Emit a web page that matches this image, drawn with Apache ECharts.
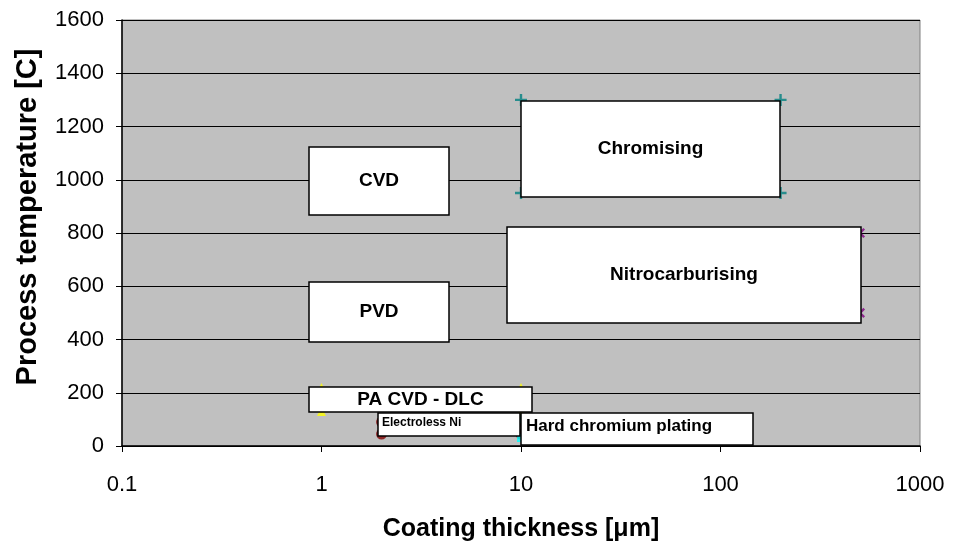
<!DOCTYPE html>
<html><head><meta charset="utf-8">
<script src="https://cdn.jsdelivr.net/npm/echarts@6/dist/echarts.min.js"></script>
<style>html,body{margin:0;padding:0;background:#fff}#c{width:954px;height:548px}</style>
</head><body><div id="c"></div>
<script>
// ---- data ----
const xTickLabels = ['0.1', '1', '10', '100', '1000'];
const yTickMin = 0, yTickMax = 1600, yTickStep = 200;

const boxNames = ['Chromising', 'Nitrocarburising', 'CVD', 'PVD', 'PA CVD - DLC', 'Electroless Ni', 'Hard chromium plating'];
const boxXMin = [10, 8.5, 0.87, 0.87, 0.87, 1.93, 10];
const boxXMax = [198, 505, 4.37, 4.37, 11.4, 9.9, 146];
const boxYMin = [935, 461, 868, 391, 129, 39, 4];
const boxYMax = [1297, 821, 1122, 615, 223, 125, 125];

const chromX = [10, 200, 10, 200];
const chromY = [1300, 1300, 950, 950];
const nitroX = [10, 500, 10, 500];
const nitroY = [800, 800, 500, 500];
const dlcX = [1, 10, 1, 10];
const dlcY = [220, 220, 130, 130];
const niX = [2, 10, 2, 10];
const niY = [90, 90, 45, 45];
const hardX = [10, 100, 10, 100];
const hardY = [100, 100, 30, 30];

// ---- styles ----
const FONT = '"Liberation Sans", Arial, sans-serif';
const labelStyle = [
  {size: 19, align: 'center', dx: 0, dy: 0},
  {size: 19, align: 'center', dx: 0, dy: 0},
  {size: 19, align: 'center', dx: 0, dy: 0},
  {size: 19, align: 'center', dx: 0, dy: 0},
  {size: 19, align: 'center', dx: 0, dy: 0},
  {size: 12, align: 'left', dx: 4, dy: 10, top: true},
  {size: 17, align: 'left', dx: 5, dy: 13, top: true}
];
const plusPath = 'path://M4,0H6V4H10V6H6V10H4V6H0V4H4Z';

function pts(xs, ys) { return xs.map((x, i) => [x, ys[i]]); }

const chart = echarts.init(document.getElementById('c'), null, {renderer: 'canvas'});
chart.setOption({
  animation: false,
  backgroundColor: '#ffffff',
  grid: {left: 122, right: 34, top: 20, bottom: 102, show: true, backgroundColor: '#C0C0C0', borderColor: '#808080', borderWidth: 1},
  xAxis: {
    type: 'log', logBase: 10, min: 0.1, max: 1000,
    name: 'Coating thickness [μm]', nameLocation: 'middle', nameGap: 71,
    nameTextStyle: {fontFamily: FONT, fontWeight: 'bold', fontSize: 25, color: '#000'},
    axisLine: {show: true, lineStyle: {color: '#000', width: 1.5}},
    axisTick: {show: true, inside: false, length: 6, lineStyle: {color: '#000', width: 1}},
    minorTick: {show: false},
    splitLine: {show: false},
    axisLabel: {
      fontFamily: FONT, fontSize: 22, color: '#000', margin: 28,
      formatter: v => xTickLabels[Math.round(Math.log10(v)) + 1]
    }
  },
  yAxis: {
    type: 'value', min: yTickMin, max: yTickMax, interval: yTickStep,
    name: 'Process temperature [C]', nameLocation: 'middle', nameGap: 80, nameRotate: 90,
    nameTextStyle: {fontFamily: FONT, fontWeight: 'bold', fontSize: 29, color: '#000', padding: [0, 0, 0, 32]},
    axisLine: {show: true, lineStyle: {color: '#000', width: 1.5}},
    axisTick: {show: true, inside: false, length: 6, lineStyle: {color: '#000', width: 1}},
    splitLine: {show: true, lineStyle: {color: '#000', width: 1}},
    axisLabel: {fontFamily: FONT, fontSize: 22, color: '#000', margin: 18, formatter: v => String(v)}
  },
  series: [
    {type: 'scatter', z: 2, data: pts(chromX, chromY), symbol: plusPath, symbolSize: 12, itemStyle: {color: '#008080'}},
    {type: 'scatter', z: 2, data: pts(nitroX, nitroY), symbol: plusPath, symbolRotate: 45, symbolSize: 12, itemStyle: {color: '#800080'}},
    {type: 'scatter', z: 2, data: pts(dlcX, dlcY), symbol: 'triangle', symbolSize: 9, itemStyle: {color: '#FFFF00'}},
    {type: 'scatter', z: 2, data: pts(niX, niY), symbol: 'circle', symbolSize: 11, itemStyle: {color: '#800000'}},
    {type: 'scatter', z: 2, data: pts(hardX, hardY), symbol: 'rect', symbolSize: 8, itemStyle: {color: '#00FFFF'}},
    {
      type: 'custom', z: 5, clip: false,
      encode: {x: [0, 1], y: [2, 3]},
      data: boxNames.map((n, i) => [boxXMin[i], boxXMax[i], boxYMin[i], boxYMax[i]]),
      renderItem: function (params, api) {
        const i = params.dataIndex;
        const p1 = api.coord([api.value(0), api.value(3)]);
        const p2 = api.coord([api.value(1), api.value(2)]);
        const x = Math.round(p1[0]), y = Math.round(p1[1]);
        const w = Math.round(p2[0]) - x, h = Math.round(p2[1]) - y;
        const st = labelStyle[i];
        const tx = st.align === 'center' ? x + w / 2 : x + st.dx;
        const ty = st.top ? y + st.dy : y + h / 2;
        return {
          type: 'group',
          children: [
            {type: 'rect', shape: {x: x, y: y, width: w, height: h}, style: {fill: '#fff', stroke: '#000', lineWidth: 1.5}},
            {type: 'text', x: tx, y: ty, style: {text: boxNames[i], fontFamily: FONT, fontWeight: 'bold', fontSize: st.size, fill: '#000', align: st.align, verticalAlign: 'middle'}}
          ]
        };
      }
    }
  ]
});
</script>
</body></html>
